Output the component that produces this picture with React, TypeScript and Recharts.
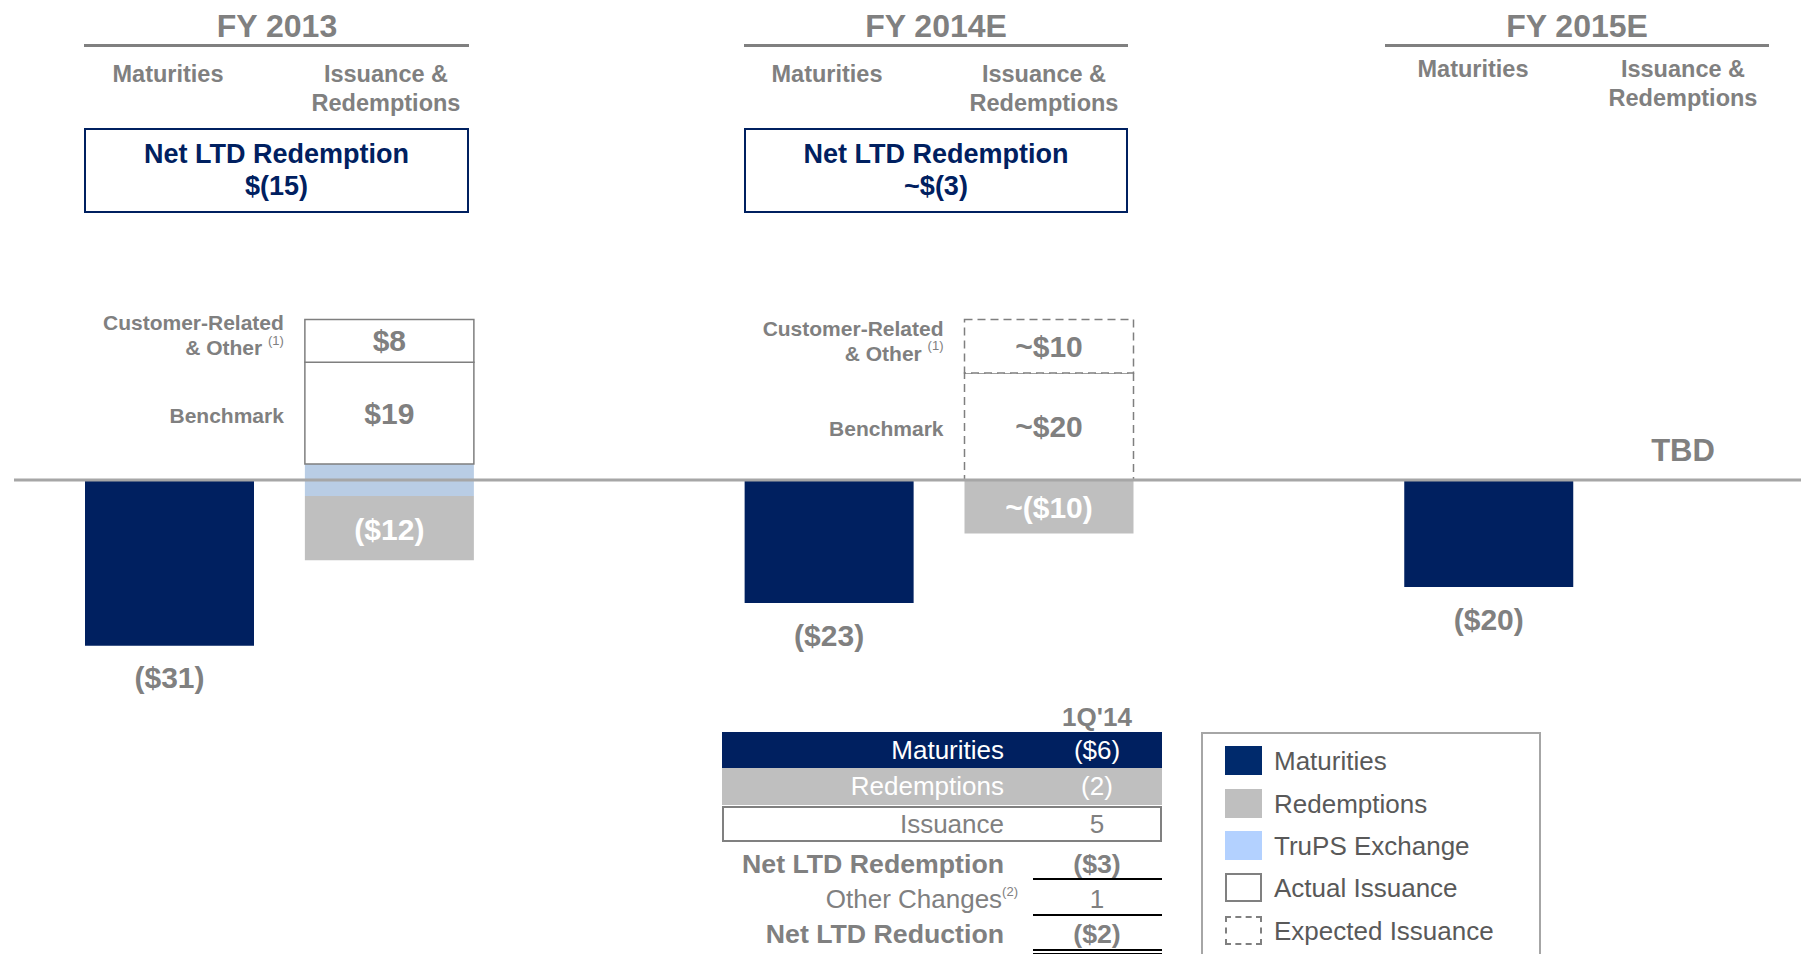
import React from 'react';
import { BarChart, Bar, XAxis, YAxis, Cell, LabelList, ReferenceLine } from 'recharts';

// Slots on the x axis (two empty slots make the gaps between years)
const slots = [
  'FY 2013 Maturities',
  'FY 2013 Issuance & Redemptions',
  'gap-a',
  'FY 2014E Maturities',
  'FY 2014E Issuance & Redemptions',
  'gap-b',
  'FY 2015E Maturities',
  'FY 2015E Issuance & Redemptions',
];
const maturities = [-31, null, null, -23, null, null, -20, null];
const trupsIssued = [null, 3, null, null, null, null, null, null];
const trupsRetired = [null, -3, null, null, null, null, null, null];
const redemptions = [null, -12, null, null, -10, null, null, null];
const benchmark = [null, 19, null, null, 20, null, null, null];
const customerOther = [null, 8, null, null, 10, null, null, null];
const expected = [false, false, false, false, true, false, false, false];

const years = ['FY 2013', 'FY 2014E', 'FY 2015E'];
const netRedemption = ['$(15)', '~$(3)', null];

const tableLabels = ['Maturities', 'Redemptions', 'Issuance', 'Net LTD Redemption', 'Other Changes', 'Net LTD Reduction'];
const tableValues = ['($6)', '(2)', '5', '($3)', '1', '($2)'];

const legendItems = ['Maturities', 'Redemptions', 'TruPS Exchange', 'Actual Issuance', 'Expected Issuance'];

const FONT = '"Liberation Sans", Arial, sans-serif';
const NAVY = '#002060';
const GRAY_TXT = '#808080';
const REDEMPTION = '#BFBFBF';
const TRUPS = '#B9CDE5';
const OUTLINE = '#7F7F7F';

const rows = slots.map((slot, i) => ({
  slot,
  approx: expected[i],
  maturities: maturities[i],
  trupsIssued: trupsIssued[i],
  trupsRetired: trupsRetired[i],
  redemptions: redemptions[i],
  benchmark: benchmark[i],
  customerOther: customerOther[i],
}));

const fmt = (v: number, approx: boolean) => (approx ? '~' : '') + (v < 0 ? `($${-v})` : `$${v}`);

// label text for a series, "~" in front of estimates
const labelOf = (key: string, withApprox = true) => (d: any) =>
  d[key] == null ? null : fmt(d[key], withApprox && d.approx);

const boxOf = (p: any) => {
  const vb = p.viewBox && p.viewBox.width !== undefined ? p.viewBox : p;
  const x = Number(vb.x), y = Number(vb.y), w = Number(vb.width), h = Number(vb.height);
  return {
    left: Math.min(x, x + w),
    right: Math.max(x, x + w),
    top: Math.min(y, y + h),
    bottom: Math.max(y, y + h),
  };
};

const bigText = { fontFamily: FONT, fontWeight: 700, fontSize: 30 };
const sideText = { fontFamily: FONT, fontWeight: 700, fontSize: 21 };

const MaturityLabel = (props: any) => {
  if (props.value == null) return null;
  const b = boxOf(props);
  return (
    <text x={(b.left + b.right) / 2} y={b.bottom + 32} textAnchor="middle" dominantBaseline="central" fill={GRAY_TXT} style={bigText}>
      {props.value}
    </text>
  );
};

const RedemptionLabel = (props: any) => {
  if (props.value == null) return null;
  const b = boxOf(props);
  return (
    <text x={(b.left + b.right) / 2} y={(b.top + b.bottom) / 2 + 1} textAnchor="middle" dominantBaseline="central" fill="#FFFFFF" style={bigText}>
      {props.value}
    </text>
  );
};

const BenchmarkLabel = (props: any) => {
  if (props.value == null) return null;
  const b = boxOf(props);
  const cy = (b.top + b.bottom) / 2;
  return (
    <g>
      <text x={(b.left + b.right) / 2} y={cy} textAnchor="middle" dominantBaseline="central" fill={GRAY_TXT} style={bigText}>
        {props.value}
      </text>
      <text x={b.left - 21} y={cy + 2} textAnchor="end" dominantBaseline="central" fill={GRAY_TXT} style={sideText}>
        Benchmark
      </text>
    </g>
  );
};

const CustomerLabel = (props: any) => {
  if (props.value == null) return null;
  const b = boxOf(props);
  const cy = (b.top + b.bottom) / 2;
  return (
    <g>
      <text x={(b.left + b.right) / 2} y={cy} textAnchor="middle" dominantBaseline="central" fill={GRAY_TXT} style={bigText}>
        {props.value}
      </text>
      <text x={b.left - 21} y={cy - 18} textAnchor="end" dominantBaseline="central" fill={GRAY_TXT} style={sideText}>
        Customer-Related
      </text>
      <text x={b.left - 21} y={cy + 7} textAnchor="end" dominantBaseline="central" fill={GRAY_TXT} style={sideText}>
        {'& Other '}
        <tspan fontSize={13} fontWeight={400} dy={-8}>(1)</tspan>
      </text>
    </g>
  );
};

const abs = (left: number, top: number, extra: React.CSSProperties = {}): React.CSSProperties => ({
  position: 'absolute',
  left,
  top,
  ...extra,
});

const centered = (cx: number, cy: number, extra: React.CSSProperties = {}): React.CSSProperties => ({
  position: 'absolute',
  left: cx - 200,
  top: cy,
  width: 400,
  transform: 'translateY(-50%)',
  textAlign: 'center',
  fontFamily: FONT,
  ...extra,
});

const App = () => {
  const yearCenters = [277, 936, 1577];
  const yearLines = [[84, 469], [744, 1128], [1385, 1769]];
  const matHead = [[168, 74], [827, 74], [1473, 69]];
  const issHead = [[386, 89], [1044, 89], [1683, 84]];

  const tableTop = [732, 768, 806];
  const rowBg = [NAVY, REDEMPTION, '#FFFFFF'];
  const rowFg = ['#FFFFFF', '#FFFFFF', GRAY_TXT];
  const lowerY = [864, 899, 934];

  const legendY = [761, 804, 846, 888, 931];
  const swatch = (i: number): React.CSSProperties => {
    const base: React.CSSProperties = { position: 'absolute', left: 1225, top: legendY[i] - 15, width: 37, height: 29, boxSizing: 'border-box' };
    if (i === 0) return { ...base, background: '#002A6C' };
    if (i === 1) return { ...base, background: REDEMPTION };
    if (i === 2) return { ...base, background: '#B3D1FF' };
    if (i === 3) return { ...base, border: `2px solid ${GRAY_TXT}` };
    return { ...base, border: `2px dashed ${GRAY_TXT}` };
  };

  return (
    <div style={{ position: 'absolute', left: 0, top: 0, width: 1801, height: 954, overflow: 'hidden', background: '#fff' }}>
      <BarChart
        width={1801}
        height={954}
        data={rows}
        stackOffset="sign"
        barSize={169}
        margin={{ top: 159, right: 0, bottom: 153, left: 14 }}
      >
        <XAxis dataKey="slot" type="category" hide padding={{ left: 46, right: -18 }} />
        <YAxis hide type="number" domain={[-60, 60]} allowDataOverflow />
        <Bar dataKey="maturities" stackId="a" fill={NAVY} isAnimationActive={false}>
          <LabelList dataKey={labelOf('maturities', false)} content={MaturityLabel} />
        </Bar>
        <Bar dataKey="trupsIssued" stackId="a" fill={TRUPS} isAnimationActive={false} />
        <Bar dataKey="trupsRetired" stackId="a" fill={TRUPS} isAnimationActive={false} />
        <Bar dataKey="redemptions" stackId="a" fill={REDEMPTION} isAnimationActive={false}>
          <LabelList dataKey={labelOf('redemptions')} content={RedemptionLabel} />
        </Bar>
        <Bar dataKey="benchmark" stackId="a" fill="#FFFFFF" stroke={OUTLINE} strokeWidth={1.5} isAnimationActive={false}>
          {rows.map((r) => (
            <Cell key={r.slot} strokeDasharray={r.approx ? '8 5' : undefined} />
          ))}
          <LabelList dataKey={labelOf('benchmark')} content={BenchmarkLabel} />
        </Bar>
        <Bar dataKey="customerOther" stackId="a" fill="#FFFFFF" stroke={OUTLINE} strokeWidth={1.5} isAnimationActive={false}>
          {rows.map((r) => (
            <Cell key={r.slot} strokeDasharray={r.approx ? '8 5' : undefined} />
          ))}
          <LabelList dataKey={labelOf('customerOther')} content={CustomerLabel} />
        </Bar>
        <ReferenceLine y={0} stroke="#A6A6A6" strokeWidth={3} />
      </BarChart>

      {/* Year headers */}
      {years.map((y, i) => (
        <React.Fragment key={y}>
          <div style={centered(yearCenters[i], 26, { fontSize: 32, fontWeight: 700, color: GRAY_TXT })}>{y}</div>
          <div style={abs(yearLines[i][0], 44, { width: yearLines[i][1] - yearLines[i][0], height: 3, background: GRAY_TXT })} />
          <div style={centered(matHead[i][0], matHead[i][1], { fontSize: 23.5, fontWeight: 700, color: GRAY_TXT })}>Maturities</div>
          <div style={centered(issHead[i][0], issHead[i][1], { fontSize: 23.5, fontWeight: 700, color: GRAY_TXT, lineHeight: '29px' })}>
            Issuance &amp;
            <br />
            Redemptions
          </div>
          {netRedemption[i] && (
            <div
              style={abs(yearLines[i][0], 128, {
                width: yearLines[i][1] - yearLines[i][0],
                height: 85,
                boxSizing: 'border-box',
                border: `2.5px solid ${NAVY}`,
                color: NAVY,
                fontFamily: FONT,
                fontWeight: 700,
                fontSize: 27,
                lineHeight: '32px',
                textAlign: 'center',
                paddingTop: 8,
              })}
            >
              Net LTD Redemption
              <br />
              {netRedemption[i]}
            </div>
          )}
        </React.Fragment>
      ))}

      <div style={centered(1683, 451, { fontSize: 31, fontWeight: 700, color: GRAY_TXT })}>TBD</div>

      {/* 1Q'14 table */}
      <div style={centered(1097, 717, { fontSize: 26, fontWeight: 700, color: GRAY_TXT })}>1Q'14</div>
      {tableTop.map((t, i) => (
        <React.Fragment key={tableLabels[i]}>
          <div
            style={abs(722, t, {
              width: 440,
              height: i === 2 ? 36 : 37,
              background: rowBg[i],
              boxSizing: 'border-box',
              border: i === 2 ? `2px solid ${GRAY_TXT}` : 'none',
            })}
          />
          <div style={abs(604, t + 18, { width: 400, transform: 'translateY(-50%)', textAlign: 'right', fontFamily: FONT, fontSize: 26, color: rowFg[i] })}>
            {tableLabels[i]}
          </div>
          <div style={centered(1097, t + 18, { fontSize: 26, color: rowFg[i] })}>{tableValues[i]}</div>
        </React.Fragment>
      ))}
      {lowerY.map((y, k) => {
        const i = k + 3;
        const bold = k !== 1;
        return (
          <React.Fragment key={tableLabels[i]}>
            <div
              style={abs(604, y, {
                width: 400,
                transform: 'translateY(-50%)',
                textAlign: 'right',
                fontFamily: FONT,
                fontSize: bold ? 26.7 : 26,
                fontWeight: bold ? 700 : 400,
                color: GRAY_TXT,
                whiteSpace: 'nowrap',
              })}
            >
              {tableLabels[i]}
              {k === 1 && <sup style={{ fontSize: 13, position: 'relative', top: -2, marginRight: -14 }}>(2)</sup>}
            </div>
            <div style={centered(1097, y, { fontSize: bold ? 26.7 : 26, fontWeight: bold ? 700 : 400, color: GRAY_TXT })}>{tableValues[i]}</div>
          </React.Fragment>
        );
      })}
      <div style={abs(1033, 878, { width: 129, height: 2, background: '#000' })} />
      <div style={abs(1033, 914, { width: 129, height: 2, background: '#000' })} />
      <div style={abs(1033, 949, { width: 129, height: 1.5, background: '#000' })} />
      <div style={abs(1033, 952.5, { width: 129, height: 1.5, background: '#000' })} />

      {/* Legend */}
      <div style={abs(1201, 732, { width: 340, height: 260, boxSizing: 'border-box', border: '2px solid #A6A6A6' })} />
      {legendItems.map((name, i) => (
        <React.Fragment key={name}>
          <div style={swatch(i)} />
          <div style={abs(1274, legendY[i], { transform: 'translateY(-50%)', fontFamily: FONT, fontSize: 26, color: '#595959', whiteSpace: 'nowrap' })}>
            {name}
          </div>
        </React.Fragment>
      ))}
    </div>
  );
};

export default App;
